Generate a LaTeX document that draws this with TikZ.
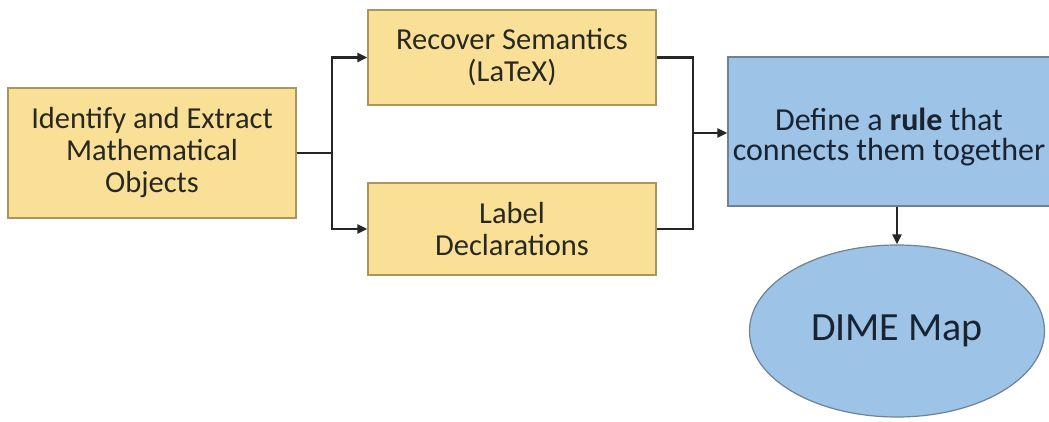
\documentclass[tikz,border=0pt]{standalone}
\usepackage{fontspec}
\setmainfont{Carlito}
\usetikzlibrary{arrows.meta,shapes.geometric}
\definecolor{boxgold}{RGB}{250,224,150}
\definecolor{goldline}{RGB}{170,150,90}
\definecolor{boxblue}{RGB}{157,195,230}
\definecolor{blueline}{RGB}{110,130,150}
\definecolor{ink}{RGB}{40,40,35}
\definecolor{blueink}{RGB}{25,35,50}
\begin{document}
\begin{tikzpicture}[x=1pt,y=-1pt,
  goldbox/.style={draw=goldline,line width=1.2pt,fill=boxgold,text=ink,
    align=center,font=\fontsize{30.5}{32}\selectfont,inner sep=0pt},
  bluebox/.style={draw=blueline,line width=1.2pt,fill=boxblue,text=blueink,
    align=center,inner sep=0pt},
  link/.style={draw=black!85,line width=2.2pt},
  arrow/.style={link,-{Triangle[length=10pt,width=9pt]}}]
\useasboundingbox (0,0) rectangle (1049,421);
\clip (0,0) rectangle (1049,421);
% processing steps
\node[goldbox,minimum width=288,minimum height=130] (extract) at (152,153)
  {Identify and Extract\\Mathematical\\Objects};
\node[goldbox,minimum width=288,minimum height=95] (recover) at (512,57.5)
  {Recover Semantics\\(LaTeX)};
\node[goldbox,minimum width=288,minimum height=92] (label) at (512,229)
  {Label\\Declarations};
\node[bluebox,minimum width=330,minimum height=149] (rule) at (893,131.5) {};
\node[text=blueink,align=center,inner sep=0pt,
  font=\fontsize{32}{30}\selectfont] (ruletext) at (889,137)
  {Define a \textbf{rule} that\\connects them together};
\node[bluebox,ellipse,minimum width=295,minimum height=172,
  font=\fontsize{40}{44}\selectfont] (dime) at (897,331) {DIME Map};
% connectors
\coordinate (split) at (332,153);
\coordinate (merge) at (693,133);
\draw[link] (extract.east) -- (split);
\draw[arrow] (split) |- (recover.west);
\draw[arrow] (split) |- (label.west);
\draw[link] (recover.east) -| (merge);
\draw[link] (label.east) -| (merge);
\draw[arrow] (merge) -- (rule.west |- merge);
\draw[arrow] (rule.south -| dime.north) -- (dime.north);
\end{tikzpicture}
\end{document}
